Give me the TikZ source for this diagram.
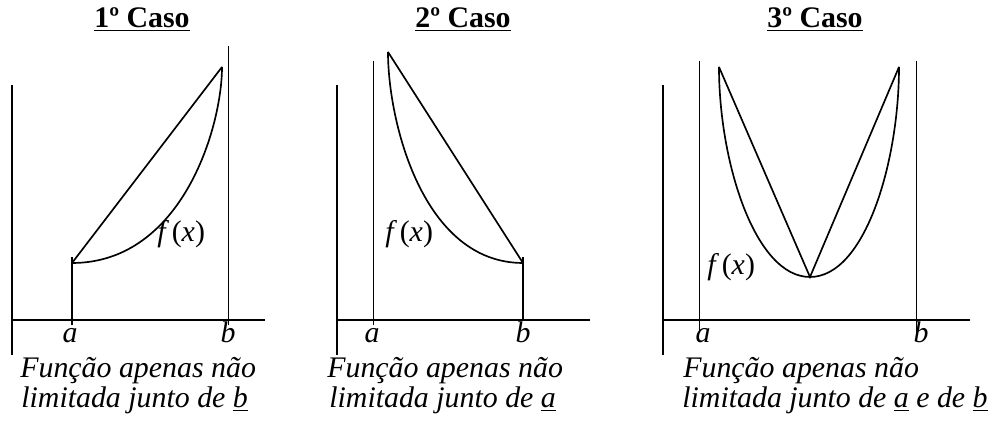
\documentclass[tikz,border=0pt]{standalone}
\usepackage{fontspec}
\setmainfont{LiberationSerif}[Extension=.ttf, UprightFont=*-Regular, ItalicFont=*-Italic, BoldFont=*-Bold, BoldItalicFont=*-BoldItalic]
\begin{document}
\begin{tikzpicture}[x=0.02cm, y=-0.02cm,
  axis/.style={line width=1.3pt},
  asym/.style={line width=0.55pt},
  graf/.style={line width=0.95pt},
  ttl/.style={font=\fontsize{17}{17}\selectfont\bfseries, anchor=base, inner sep=0pt},
  lab/.style={font=\fontsize{17}{17}\selectfont\itshape, anchor=base, inner sep=0pt},
  txt/.style={font=\fontsize{17}{17}\selectfont\itshape, anchor=base west, inner sep=0pt}]
  \useasboundingbox (0,0) rectangle (992,421);
  % first case
  \node[ttl] (t1) at (142,28) {\underline{1º Caso}};
  \coordinate (p1a) at (72,263);
  \coordinate (p1b) at (222,67);
  \draw[axis] (12,85) -- (12,355);
  \draw[axis] (12,320) -- (265,320);
  \draw[graf] (72,257) -- (72,325);
  \draw[asym] (228,46) -- (228,325);
  \draw[graf] (p1a) .. controls +(110,0) and +(0,60) .. (p1b);
  \draw[graf] (p1a) -- (p1b);
  \node[lab, anchor=base west] (f1) at (157,242) {f\hspace{3.5pt}{\upshape(}x{\upshape)}};
  \node[lab] (a1) at (70,343) {a};
  \node[lab] (b1) at (228,343) {b};
  \node[txt] (s1) at (20,378) {Função apenas não};
  \node[txt] (r1) at (21,408) {limitada junto de \underline{b}};
  % second case
  \node[ttl] (t2) at (463,28) {\underline{2º Caso}};
  \coordinate (p2a) at (388,52);
  \coordinate (p2b) at (523,263);
  \draw[axis] (337,85) -- (337,355);
  \draw[axis] (337,320) -- (590,320);
  \draw[asym] (373,61) -- (373,325);
  \draw[graf] (523,257) -- (523,320);
  \draw[graf] (p2a) .. controls +(0,70) and +(-100,0) .. (p2b);
  \draw[graf] (p2a) -- (p2b);
  \node[lab, anchor=base west] (f2) at (385,242) {f\hspace{3.5pt}{\upshape(}x{\upshape)}};
  \node[lab] (a2) at (372,343) {a};
  \node[lab] (b2) at (523,343) {b};
  \node[txt] (s2) at (327,378) {Função apenas não};
  \node[txt] (r2) at (329,408) {limitada junto de \underline{a}};
  % third case
  \node[ttl] (t3) at (815,28) {\underline{3º Caso}};
  \coordinate (p3a) at (719,67);
  \coordinate (p3m) at (810,277);
  \coordinate (p3b) at (899,67);
  \draw[axis] (663,85) -- (663,355);
  \draw[axis] (663,320) -- (970,320);
  \draw[asym] (699,61) -- (699,333);
  \draw[asym] (916,61) -- (916,333);
  \draw[graf] (p3a) .. controls +(0,95) and +(-55,0) .. (p3m)
                    .. controls +(55,0) and +(0,95) .. (p3b);
  \draw[graf] (p3a) -- (p3m) -- (p3b);
  \node[lab, anchor=base west] (f3) at (707,275) {f\hspace{3.5pt}{\upshape(}x{\upshape)}};
  \node[lab] (a3) at (703,343) {a};
  \node[lab] (b3) at (921,343) {b};
  \node[txt] (s3) at (683,378) {Função apenas não};
  \node[txt] (r3) at (682,408) {limitada junto de \underline{a} e de \underline{b}};
\end{tikzpicture}
\end{document}
